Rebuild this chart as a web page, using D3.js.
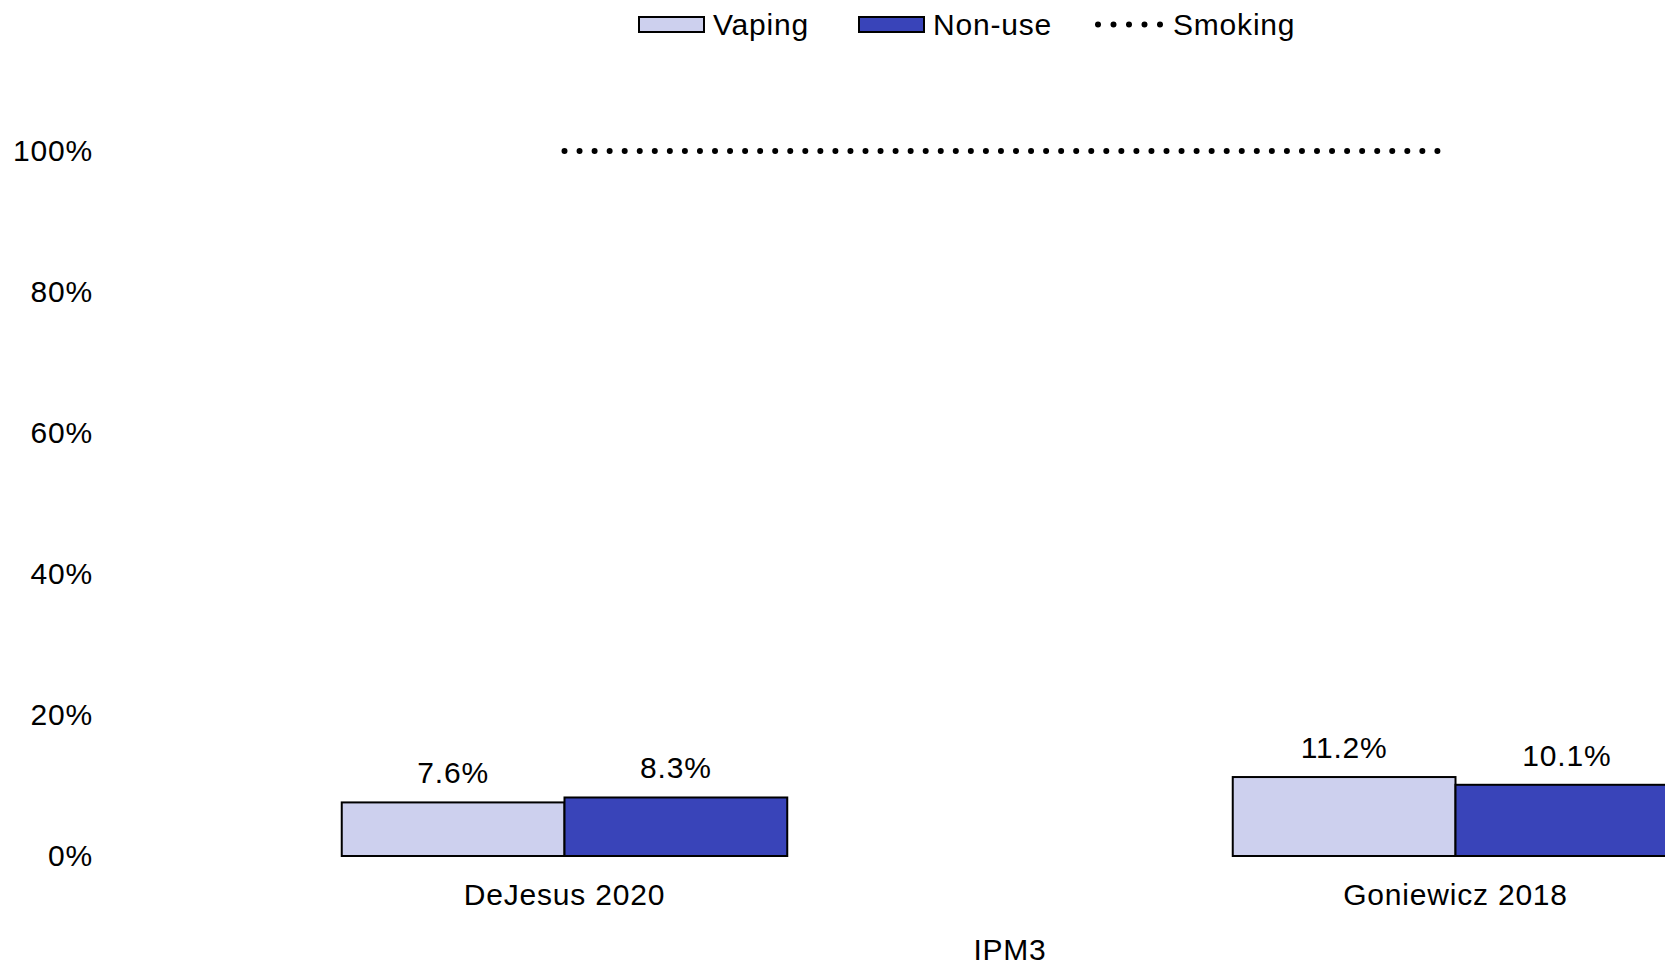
<!DOCTYPE html>
<html>
<head>
<meta charset="utf-8">
<script src="https://cdn.jsdelivr.net/npm/d3@7"></script>
<style>
  html, body { margin: 0; padding: 0; background: #fff; overflow: hidden; }
  svg { display: block; }
  text { font-family: "Liberation Sans", Arial, sans-serif; fill: #000; }
</style>
</head>
<body>
<svg id="chart" width="1665" height="967"></svg>
<script>
// ---- data ----
const categories = ["DeJesus 2020", "Goniewicz 2018"];
const seriesNames = ["Vaping", "Non-use"];
const vaping = [7.6, 11.2];
const nonUse = [8.3, 10.1];
const smoking = [100, 100];
const yTicks = [0, 20, 40, 60, 80, 100];
const xTitle = "IPM3";

// ---- layout ----
const FS = "30px", LS = "0.8px";
const colors = { "Vaping": "#cdd0ee", "Non-use": "#3944b9" };
const svg = d3.select("#chart");

const x0 = d3.scaleBand().domain(categories).range([119, 1901]).padding(0);
const x1 = d3.scaleBand().domain(seriesNames)
  .range([x0.bandwidth() * 0.25, x0.bandwidth() * 0.75]).padding(0);
const y = d3.scaleLinear().domain([0, 100]).range([856, 151]);

const rows = categories.map((c, i) => ({ cat: c, values: [
  { key: "Vaping", v: vaping[i] }, { key: "Non-use", v: nonUse[i] } ] }));

function styleText(sel) {
  sel.style("font-size", FS).style("letter-spacing", LS)
     .style("font-family", "'Liberation Sans', Arial, sans-serif").attr("fill", "#000");
}

// y axis (labels only)
const yAxis = d3.axisLeft(y).tickValues(yTicks).tickFormat(d => d + "%").tickSize(0).tickPadding(0);
const gy = svg.append("g").attr("transform", "translate(93,0)").call(yAxis);
gy.select(".domain").remove();
gy.selectAll("text").call(styleText);

// x axis (labels only)
const xAxis = d3.axisBottom(x0).tickSize(0).tickPadding(0);
const gx = svg.append("g").attr("transform", "translate(0,856)").call(xAxis);
gx.select(".domain").remove();
gx.selectAll("text").call(styleText).attr("dy", null).attr("y", 49);

// x title
svg.append("text").attr("x", (x0(categories[0]) + x0(categories[1]) + x0.bandwidth()) / 2)
  .attr("y", 960).attr("text-anchor", "middle").call(styleText).text(xTitle);

// bars
const groups = svg.selectAll("g.grp").data(rows).enter().append("g")
  .attr("class", "grp").attr("transform", d => `translate(${x0(d.cat)},0)`);
groups.selectAll("rect").data(d => d.values).enter().append("rect")
  .attr("x", d => x1(d.key)).attr("width", x1.bandwidth())
  .attr("y", d => y(d.v)).attr("height", d => y(0) - y(d.v))
  .attr("fill", d => colors[d.key]).attr("stroke", "#000").attr("stroke-width", 2);
groups.selectAll("text.lbl").data(d => d.values).enter().append("text")
  .attr("class", "lbl")
  .attr("x", d => x1(d.key) + x1.bandwidth() / 2)
  .attr("y", d => y(d.v) - 19)
  .attr("text-anchor", "middle").call(styleText)
  .text(d => d.v.toFixed(1) + "%");

// smoking line (dotted)
const linePts = categories.map((c, i) => [x0(c) + x0.bandwidth() / 2, y(smoking[i])]);
linePts[linePts.length - 1][0] -= 8;
svg.append("path")
  .attr("d", d3.line()(linePts))
  .attr("fill", "none").attr("stroke", "#000").attr("stroke-width", 6)
  .attr("stroke-linecap", "round").attr("stroke-dasharray", "0,15.05");

// legend
const lg = svg.append("g");
const legendItems = [
  { name: "Vaping", type: "rect", x: 639 },
  { name: "Non-use", type: "rect", x: 859 },
  { name: "Smoking", type: "dots", x: 1095 }
];
legendItems.forEach(it => {
  if (it.type === "rect") {
    lg.append("rect").attr("x", it.x).attr("y", 17).attr("width", 65).attr("height", 15)
      .attr("fill", colors[it.name]).attr("stroke", "#000").attr("stroke-width", 2);
    lg.append("text").attr("x", it.x + 74).attr("y", 35).call(styleText).text(it.name);
  } else {
    lg.append("line").attr("x1", it.x + 3).attr("x2", it.x + 66).attr("y1", 24.5).attr("y2", 24.5)
      .attr("stroke", "#000").attr("stroke-width", 6).attr("stroke-linecap", "round")
      .attr("stroke-dasharray", "0,15.5");
    lg.append("text").attr("x", it.x + 78).attr("y", 35).call(styleText).text(it.name);
  }
});
</script>
</body>
</html>
